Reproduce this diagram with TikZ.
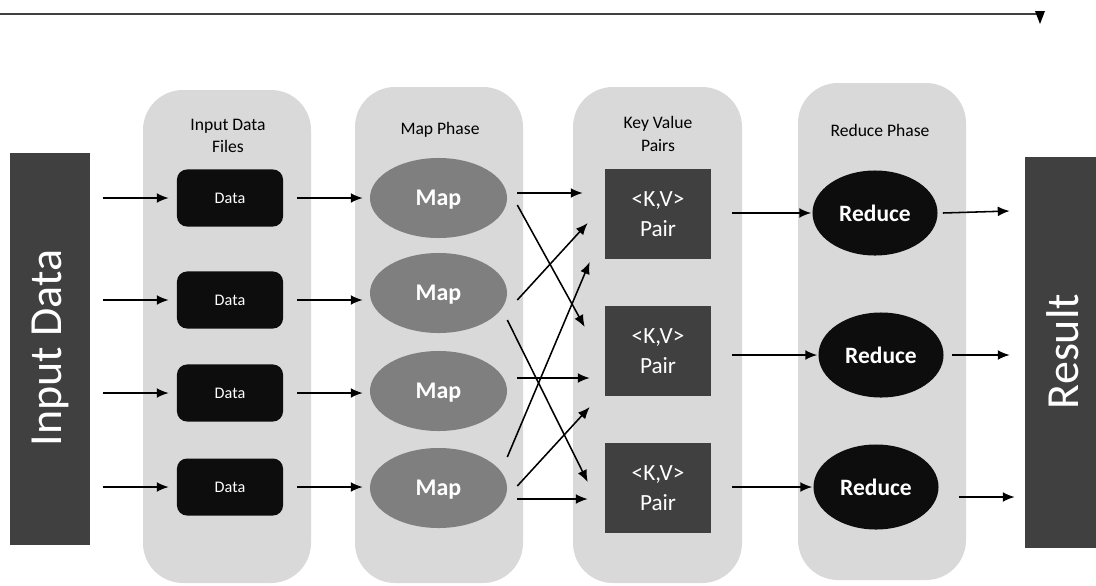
\documentclass[tikz,border=0pt]{standalone}
\usepackage{fontspec}
\setmainfont{Carlito}
\usepackage{tikz}
\usetikzlibrary{shapes,arrows.meta}
\usetikzlibrary{positioning,calc}
\definecolor{colgray}{HTML}{D9D9D9}
\definecolor{darkbox}{HTML}{404040}
\definecolor{mapgray}{HTML}{7F7F7F}
\definecolor{nearblack}{HTML}{0D0D0D}
\tikzset{
column/.style={fill=colgray, rounded corners=1cm},
sidebar/.style={fill=darkbox, rectangle, inner sep=0pt},
bigtext/.style={text=white, font=\fontsize{32.7}{39}\selectfont},
head/.style={align=center, font=\fontsize{12.5}{16}\selectfont},
databox/.style={fill=nearblack, rectangle, rounded corners=0.25cm, minimum width=2.65cm, minimum height=1.425cm, text=white, font=\fontsize{11.5}{14}\selectfont},
mapnode/.style={fill=mapgray, ellipse, minimum width=3.425cm, minimum height=2cm, inner sep=0pt, text depth=0pt, text=white, font=\bfseries\fontsize{17}{20}\selectfont},
kvbox/.style={fill=darkbox, rectangle, minimum width=2.65cm, minimum height=2.225cm, inner sep=0pt, align=center, text=white, font=\fontsize{16.5}{21}\selectfont},
rednode/.style={fill=nearblack, ellipse, minimum width=3.125cm, minimum height=2.125cm, inner sep=0pt, text=white, font=\bfseries\fontsize{16.7}{20}\selectfont},
flow/.style={line width=1.1pt, -{Latex[length=8.5pt,width=7pt]}},
}
\begin{document}
\begin{tikzpicture}[x=0.025cm, y=-0.025cm]
\useasboundingbox (0,0) rectangle (1096,585);
\clip (0,0) rectangle (1096,585);

\coordinate (tl) at (0,14);
\coordinate (tr) at (1040,14);
\draw[line width=1.5pt, black!75] (tl) -- (tr);
\fill[black] (1035,11) -- (1045,11) -- (1040,24) -- cycle;

\fill[column] (143,90) rectangle (311,583);
\fill[column] (355,87) rectangle (523,583);
\fill[column] (573,87) rectangle (742,583);
\fill[column] (798,83) rectangle (966,580);

\node[head] (h1) at (228,136) {Input Data\\Files};
\node[head] (h2) at (440,130) {Map Phase};
\node[head] (h3) at (658,134) {Key Value\\Pairs};
\node[head] (h4) at (880,130) {Reduce Phase};

\node[sidebar, minimum width=2cm, minimum height=9.8cm] (inp) at (50,349) {};
\node[bigtext, rotate=90] (inptext) at (50,348) {Input Data};
\node[sidebar, minimum width=2.125cm, minimum height=9.775cm] (res) at (1067.5,352.5) {};
\node[bigtext, rotate=90] (restext) at (1063,351.5) {Result};

\node[databox] (d1) at (230,198) {Data};
\node[databox] (d2) at (230,300) {Data};
\node[databox] (d3) at (230,393) {Data};
\node[databox] (d4) at (230,487) {Data};

\node[mapnode] (m1) at (438.5,198) {Map};
\node[mapnode] (m2) at (438.5,293) {Map};
\node[mapnode] (m3) at (438.5,391) {Map};
\node[mapnode] (m4) at (438.5,488) {Map};

\node[kvbox] (kv1) at (658,214) {<K,V>\\Pair};
\node[kvbox] (kv2) at (658,351) {<K,V>\\Pair};
\node[kvbox] (kv3) at (658,488) {<K,V>\\Pair};

\node[rednode] (r1) at (875,213) {Reduce};
\node[rednode] (r2) at (881,355) {Reduce};
\node[rednode] (r3) at (876,487) {Reduce};

\foreach \i in {1,...,4}{
  \draw[flow] ($(inp.east |- d\i)+(13,0)$) -- ($(d\i.west)+(-8,0)$);
  \draw[flow] ($(d\i.east)+(14,0)$) -- ($(m\i.west |- d\i)+(-7,0)$);
}

\draw[flow] ($(m1.east)+(10,-5)$) -- ($(kv1.west)+(-22,-21)$);
\draw[flow] ($(m1.east)+(10,7)$) -- ($(kv2.west)+(-20,-24)$);
\draw[flow] ($(m2.east)+(10,7)$) -- ($(kv1.west)+(-17,9)$);
\draw[flow] ($(m2.east)+(0,27)$) -- ($(kv3.west)+(-17,-6)$);
\draw[flow] ($(m4.east)+(0,-31)$) -- ($(kv1.west)+(-15,48)$);
\draw[flow] ($(m3.east)+(10,-13)$) -- ($(kv2.west)+(-15,27)$);
\draw[flow] ($(m4.east)+(10,-2)$) -- ($(kv2.west)+(-15,56)$);
\draw[flow] ($(m4.east)+(10,11)$) -- ($(kv3.west)+(-17,11)$);

\foreach \i in {1,2,3}
  \draw[flow] ($(kv\i.east |- r\i)+(21,0)$) -- ($(r\i.west)+(-1,0)$);

\draw[flow] ($(r1.east)+(5,0)$) -- ($(res.west |- r1)+(-15,-2)$);
\draw[flow] ($(r2.east)+(8,0)$) -- ($(res.west |- r2)+(-15,0)$);
\draw[flow] ($(r3.east)+(20,10)$) -- ($(res.west |- r3)+(-10,10)$);
\end{tikzpicture}
\end{document}
